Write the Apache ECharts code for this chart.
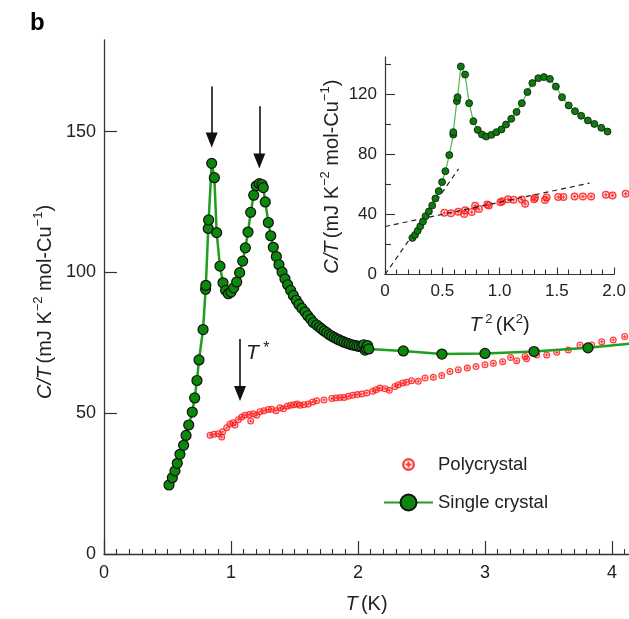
<!DOCTYPE html>
<html>
<head>
<meta charset="utf-8">
<script src="https://cdn.jsdelivr.net/npm/echarts@6/dist/echarts.min.js"></script>
<style>
html,body{margin:0;padding:0;background:#fff;}
#main{width:629px;height:619px;}
</style>
</head>
<body>
<div id="main"></div>
<script>
// main panel: C/T vs T
var singleT = [0.512,0.538,0.559,0.577,0.598,0.627,0.646,0.667,0.695,0.714,0.732,0.748,0.780,0.800,0.802,0.821,0.824,0.848,0.869,0.887,
    0.913,0.937,0.958,0.979,1.000,1.021,1.045,1.068,1.092,1.113,1.134,1.155,1.179,1.199,1.223,1.244,1.254,1.270,1.294,1.313,
    1.333,1.357,1.378,1.402,1.425,1.446,1.470,1.491,1.514,1.535,1.559,1.583,1.604,1.627,1.648,1.675,1.695,1.714,1.734,1.754,
    1.773,1.793,1.813,1.832,1.852,1.872,1.891,1.911,1.930,1.950,1.970,1.990,2.010,2.030,2.045,2.055,2.065,2.075,2.085,
    2.357,2.661,3.000,3.386,3.811,4.250];
var singleC = [24.5,27.1,29.5,32.2,35.4,38.6,42.1,45.8,50.4,55.4,61.6,68.9,79.7,94.0,95.4,115.6,118.6,138.7,133.6,114.1,
    102.2,96.3,93.6,92.4,93.0,94.5,96.6,99.9,104.0,108.7,114.3,121.3,127.4,130.7,131.5,131.2,130.1,125.0,117.7,113.0,
    108.9,105.6,102.7,100.1,97.7,95.6,93.6,91.8,90.1,88.6,87.2,85.9,84.6,83.4,82.2,81.3,80.6,79.9,79.2,78.6,
    77.9,77.4,76.9,76.4,76.0,75.6,75.2,74.9,74.6,74.3,74.1,73.9,73.7,73.6,74.3,72.4,73.0,74.0,72.8,
    72.1,71.0,71.2,71.9,73.2,75.2];

var polyT = [0.835,0.866,0.900,0.927,0.934,0.966,0.992,1.018,1.031,1.058,1.084,1.110,1.144,1.155,1.176,1.202,1.228,1.260,1.294,1.320,
    1.354,1.386,1.412,1.443,1.470,1.496,1.522,1.543,1.575,1.609,1.643,1.675,1.732,1.793,1.827,1.858,1.890,1.924,1.958,1.995,
    2.030,2.069,2.116,2.142,2.173,2.213,2.247,2.291,2.318,2.352,2.383,2.422,2.475,2.528,2.593,2.659,2.724,2.790,2.861,2.929,
    3.000,3.066,3.139,3.202,3.250,3.315,3.328,3.407,3.486,3.565,3.656,3.748,3.840,3.919,4.010,4.100];
var polyC = [42.2,42.5,42.7,41.5,43.4,44.8,46.2,46.6,45.8,47.7,48.6,49.3,49.5,47.2,49.8,49.3,50.5,50.9,51.3,51.4,
    50.9,51.9,51.6,52.5,52.8,53.0,53.3,52.8,53.0,53.3,54.0,54.4,54.7,55.2,55.4,55.6,55.6,56.0,56.4,56.6,
    56.8,57.2,57.8,58.3,58.9,58.7,58.1,59.5,60.1,60.7,61.0,61.5,61.3,62.5,62.8,63.4,64.8,65.4,66.0,66.6,
    67.2,67.7,68.3,69.8,68.6,70.1,69.3,70.7,70.7,71.6,72.4,74.2,74.2,75.4,76.0,77.2];

// inset: C/T vs T^2
var insetSingleT2 = [0.239,0.262,0.285,0.308,0.331,0.354,0.383,0.412,0.440,0.469,0.498,0.527,0.561,0.596,0.596,0.627,0.633,0.662,0.699,0.734,
    0.771,0.809,0.846,0.883,0.929,0.973,1.016,1.056,1.102,1.148,1.194,1.243,1.286,1.338,1.387,1.439,1.491,1.545,1.603,1.658,
    1.712,1.770,1.827,1.888,1.942];
var insetSingleC = [24.4,26.4,29.1,32.2,35.3,38.9,42.0,46.0,50.7,55.6,61.6,68.9,79.6,93.3,94.9,115.6,118.2,138.7,133.3,114.2,
    102.2,96.4,93.3,92.0,93.1,94.9,96.7,100.0,103.8,108.4,114.2,121.6,127.6,130.9,131.6,130.4,125.3,118.2,112.7,108.9,
    105.8,102.7,100.4,97.8,95.3];
var insetPolyT2 = [0.518,0.576,0.639,0.691,0.699,0.757,0.786,0.820,0.892,0.906,1.007,1.022,1.073,1.122,1.194,1.223,1.301,1.309,1.396,1.410,
    1.511,1.557,1.655,1.727,1.799,1.928,1.986,2.100];
var insetPolyC = [41.1,40.9,41.8,40.4,42.9,41.6,45.8,43.6,46.7,46.0,48.2,48.9,50.2,49.8,50.0,47.1,50.2,51.1,49.6,51.3,
    51.6,51.6,52.0,52.0,52.0,53.1,52.7,53.8];

// dashed guide lines in the inset
var fitSingleT2 = [0, 0.642];
var fitSingleC = [0, 70.4];
var fitPolyT2 = [0, 1.784];
var fitPolyC = [32, 60.9];

// arrows: T position, top and tip of each arrow
var arrowT = [0.848, 1.223, 1.071];
var arrowTop = [166, 159, 76.3];
var arrowTip = [147, 139.5, 57];

// tick positions
var mainXTicks = [0, 1, 2, 3, 4];
var mainXMinor = [];
for (var k = 1; k <= 41; k++) {
    if (k % 10 !== 0) mainXMinor.push(k / 10);
}
var mainYTicks = [0, 50, 100, 150];
var insetYTicks = [0, 40, 80, 120];
var insetYMinor = [20, 60, 100, 140];

function pairs(a, b) {
    return a.map(function (v, i) { return [v, b[i]]; });
}

var chart = echarts.init(document.getElementById('main'));

var font = 'Liberation Sans, Arial, sans-serif';
var ink = '#222';
var axisColor = '#333';
var red = '#ff1010';
// circle with a plus inside
var plusCircle = 'path://M0,-10A10,10 0 1,1 0,10A10,10 0 1,1 0,-10Z M0,-6.3A6.3,6.3 0 1,0 0,6.3A6.3,6.3 0 1,0 0,-6.3Z M-4.6,-1.7H4.6V1.7H-4.6Z M-1.7,-4.6H1.7V4.6H-1.7Z';

var arrowLines = arrowT.map(function (t, i) {
    return [{ coord: [t, arrowTop[i]], symbol: 'none' }, { coord: [t, arrowTip[i]], symbol: 'triangle', symbolSize: [12, 15] }];
});

var richLabel = {
    i: { fontStyle: 'italic', fontFamily: font, fontSize: 20, color: ink, lineHeight: 26 },
    n: { fontFamily: font, fontSize: 20, color: ink, lineHeight: 26 },
    sup: { fontFamily: font, fontSize: 13, color: ink, verticalAlign: 'top' }
};

var option = {
    animation: false,
    backgroundColor: '#fff',
    grid: [
        { left: 104, top: 40, right: 0, height: 517 },
        { left: 385, top: 57, width: 231.7, height: 217.5 }
    ],
    xAxis: [
        {
            gridIndex: 0, type: 'value', min: 0, max: 4.134,
            axisLine: { lineStyle: { color: axisColor, width: 1.3 } },
            axisTick: { inside: true, length: 13, customValues: mainXTicks, lineStyle: { color: axisColor, width: 1.2 } },
            axisLabel: { margin: 10, customValues: mainXTicks, fontFamily: font, fontSize: 18, color: ink },
            splitLine: { show: false },
            name: '{i|T} {n|(K)}', nameLocation: 'middle', nameGap: 37,
            nameTextStyle: { rich: richLabel }
        },
        {
            // minor ticks of the main x axis
            gridIndex: 0, type: 'value', min: 0, max: 4.134, position: 'bottom',
            axisLine: { show: false },
            axisTick: { inside: true, length: 5, customValues: mainXMinor, lineStyle: { color: axisColor, width: 1.1 } },
            axisLabel: { show: false },
            splitLine: { show: false }
        },
        {
            gridIndex: 1, type: 'value', min: 0, max: 2, interval: 0.5,
            axisLine: { lineStyle: { color: axisColor, width: 1.2 } },
            axisTick: { inside: true, length: 7, lineStyle: { color: axisColor, width: 1.1 } },
            minorTick: { show: true, splitNumber: 5, length: 5, lineStyle: { color: axisColor, width: 1.1 } },
            axisLabel: {
                margin: 8, fontFamily: font, fontSize: 17, color: ink,
                formatter: function (v) { return v === 0 ? '0' : v.toFixed(1); }
            },
            splitLine: { show: false },
            name: '{i|T}{sup| 2} {n|(K}{sup|2}{n|)}', nameLocation: 'middle', nameGap: 38,
            nameTextStyle: { rich: richLabel }
        }
    ],
    yAxis: [
        {
            gridIndex: 0, type: 'value', min: 0, max: 182.5,
            axisLine: { lineStyle: { color: axisColor, width: 1.3 } },
            axisTick: { inside: true, length: 13, customValues: mainYTicks, lineStyle: { color: axisColor, width: 1.2 } },
            axisLabel: { margin: 8, customValues: mainYTicks, fontFamily: font, fontSize: 18, color: ink },
            splitLine: { show: false },
            name: '{i|C/T} {n|(mJ K}{sup|−2}{n| mol-Cu}{sup|−1}{n|)}', nameLocation: 'middle', nameGap: 46,
            nameTextStyle: { rich: richLabel, padding: [0, 10, 0, 0] }
        },
        {
            gridIndex: 1, type: 'value', min: 0, max: 145, position: 'left',
            axisLine: { lineStyle: { color: axisColor, width: 1.2 } },
            axisTick: { inside: true, length: 10, customValues: insetYTicks, lineStyle: { color: axisColor, width: 1.1 } },
            axisLabel: { margin: 8, customValues: insetYTicks, fontFamily: font, fontSize: 17, color: ink },
            splitLine: { show: false },
            name: '{i|C/T} {n|(mJ K}{sup|−2}{n| mol-Cu}{sup|−1}{n|)}', nameLocation: 'middle', nameGap: 40,
            nameTextStyle: { rich: richLabel, padding: [0, 22, 0, 0] }
        },
        {
            // short ticks of the inset y axis
            gridIndex: 1, type: 'value', min: 0, max: 145, position: 'left',
            axisLine: { show: false },
            axisTick: { inside: true, length: 6, customValues: insetYMinor, lineStyle: { color: axisColor, width: 1.1 } },
            axisLabel: { show: false },
            splitLine: { show: false }
        }
    ],
    legend: [
        {
            data: ['Polycrystal'], orient: 'vertical', left: 402, top: 455, padding: 0,
            itemWidth: 49, itemHeight: 13, selectedMode: false,
            textStyle: { fontFamily: font, fontSize: 18.5, color: ink }
        },
        {
            data: ['Single crystal'], orient: 'vertical', left: 383, top: 493, padding: 0,
            itemWidth: 49, itemHeight: 20, selectedMode: false,
            textStyle: { fontFamily: font, fontSize: 18.5, color: ink }
        }
    ],
    graphic: [
        { type: 'text', left: 30, top: 11, style: { text: 'b', font: 'bold 24px ' + font, fill: '#000' } },
        {
            type: 'text', left: 246, top: 341,
            style: {
                text: '{i|T}{s| *}',
                rich: {
                    i: { fontStyle: 'italic', fontFamily: font, fontSize: 21, fill: ink, lineHeight: 24 },
                    s: { fontFamily: font, fontSize: 16, fill: ink, verticalAlign: 'top' }
                }
            }
        }
    ],
    series: [
        {
            name: 'Polycrystal', type: 'scatter', xAxisIndex: 0, yAxisIndex: 0,
            data: pairs(polyT, polyC),
            symbol: plusCircle, symbolSize: 7,
            itemStyle: { color: red },
            z: 2
        },
        {
            name: 'Single crystal', type: 'line', xAxisIndex: 0, yAxisIndex: 0,
            data: pairs(singleT, singleC),
            symbol: 'circle', symbolSize: 10, showAllSymbol: true,
            lineStyle: { color: '#1f9e1f', width: 2.5 },
            itemStyle: { color: '#0b870b', borderColor: '#111', borderWidth: 1.2 },
            z: 3
        },
        {
            name: 'arrows', type: 'line', xAxisIndex: 0, yAxisIndex: 0, data: [],
            markLine: {
                silent: true, animation: false,
                symbol: ['none', 'triangle'],
                label: { show: false },
                lineStyle: { color: '#111', width: 1.6, type: 'solid' },
                itemStyle: { color: '#111' },
                emphasis: { disabled: true },
                data: arrowLines
            }
        },
        {
            name: 'Polycrystal inset', type: 'scatter', xAxisIndex: 2, yAxisIndex: 1,
            data: pairs(insetPolyT2, insetPolyC),
            symbol: plusCircle, symbolSize: 8, clip: false,
            itemStyle: { color: red },
            z: 2
        },
        {
            name: 'fit single', type: 'line', xAxisIndex: 2, yAxisIndex: 1,
            data: pairs(fitSingleT2, fitSingleC), symbol: 'none', silent: true,
            lineStyle: { color: '#222', width: 1.2, type: [5, 4] }, z: 4
        },
        {
            name: 'fit poly', type: 'line', xAxisIndex: 2, yAxisIndex: 1,
            data: pairs(fitPolyT2, fitPolyC), symbol: 'none', silent: true,
            lineStyle: { color: '#222', width: 1.2, type: [5, 4] }, z: 4
        },
        {
            name: 'Single crystal inset', type: 'line', xAxisIndex: 2, yAxisIndex: 1,
            data: pairs(insetSingleT2, insetSingleC),
            symbol: 'circle', symbolSize: 7, showAllSymbol: true,
            lineStyle: { color: '#4cb84c', width: 1.2 },
            itemStyle: { color: '#0b7d0b', borderColor: '#111', borderWidth: 0.8 },
            z: 5
        }
    ]
};

chart.setOption(option);
</script>
</body>
</html>
